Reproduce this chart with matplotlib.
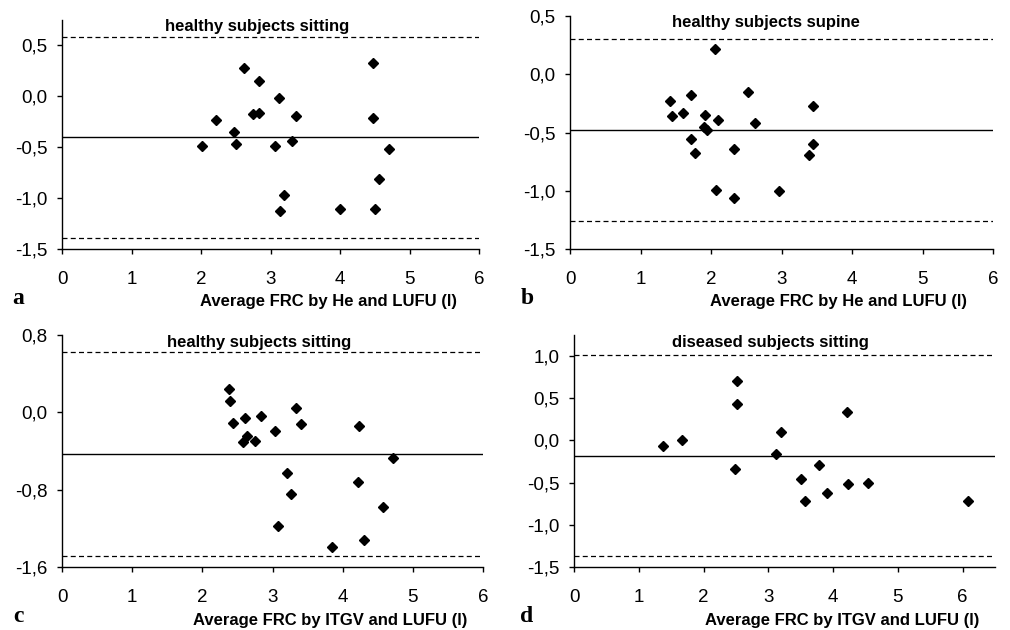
"""
Bland-Altman plots of FRC: four panels (a-d), mean difference with
limits of agreement (dashed).
"""

import matplotlib
matplotlib.use("Agg")
import matplotlib.pyplot as plt

plt.rcParams["font.family"] = ["Liberation Sans", "DejaVu Sans"]

# ---- data ---------------------------------------------------------------
# panel a: healthy subjects sitting, He vs LUFU
a_x = [2.02, 2.21, 2.47, 2.51, 2.62, 2.75, 2.83, 2.83, 3.07, 3.12,
       3.13, 3.19, 3.31, 3.37, 4.00, 4.47, 4.48, 4.51, 4.56, 4.70]
a_y = [-0.49, -0.23, -0.35, -0.47, 0.275, -0.17, -0.16, 0.155, -0.49, -0.02,
       -1.125, -0.965, -0.44, -0.195, -1.11, 0.33, -0.21, -1.105, -0.81, -0.52]
a_lines = [-0.40, 0.58, -1.39]  # mean, upper, lower

# panel b: healthy subjects supine, He vs LUFU
b_x = [1.42, 1.44, 1.60, 1.72, 1.72, 1.78, 1.91, 1.90, 1.94, 2.06,
       2.10, 2.07, 2.33, 2.33, 2.52, 2.63, 2.97, 3.39, 3.44, 3.45]
b_y = [-0.23, -0.36, -0.33, -0.175, -0.56, -0.675, -0.35, -0.455, -0.48, 0.215,
       -0.39, -0.99, -0.64, -1.06, -0.15, -0.42, -1.005, -0.69, -0.27, -0.60]
b_lines = [-0.48, 0.30, -1.26]

# panel c: healthy subjects sitting, ITGV vs LUFU
c_x = [2.385, 2.39, 2.43, 2.61, 2.64, 2.58, 2.755, 2.83, 3.04, 3.21,
       3.26, 3.08, 3.34, 3.41, 3.85, 4.23, 4.22, 4.30, 4.57, 4.72]
c_y = [0.24, 0.12, -0.11, -0.06, -0.24, -0.31, -0.295, -0.035, -0.19, -0.63,
       -0.84, -1.18, 0.045, -0.12, -1.39, -0.145, -0.72, -1.32, -0.98, -0.47]
c_lines = [-0.43, 0.62, -1.49]

# panel d: diseased subjects sitting, ITGV vs LUFU
d_x = [1.38, 1.67, 2.52, 2.51, 2.48, 3.12, 3.19, 3.50, 3.56, 3.79,
       3.91, 4.22, 4.23, 4.54, 6.09]
d_y = [-0.07, 0.01, 0.71, 0.435, -0.34, -0.155, 0.10, -0.46, -0.715, -0.29,
       -0.625, 0.335, -0.52, -0.505, -0.715]
d_lines = [-0.185, 1.015, -1.375]

titles = ["healthy subjects sitting", "healthy subjects supine",
          "healthy subjects sitting", "diseased subjects sitting"]
xlabels = ["Average FRC by He and LUFU (l)", "Average FRC by He and LUFU (l)",
           "Average FRC by ITGV and LUFU (l)", "Average FRC by ITGV and LUFU (l)"]
letters = ["a", "b", "c", "d"]

x_ticks = [0, 1, 2, 3, 4, 5, 6]
ab_yticks = [0.5, 0.0, -0.5, -1.0, -1.5]
ab_ylabels = ["0,5", "0,0", "-0,5", "-1,0", "-1,5"]
c_yticks = [0.8, 0.0, -0.8, -1.6]
c_ylabels = ["0,8", "0,0", "-0,8", "-1,6"]
d_yticks = [1.0, 0.5, 0.0, -0.5, -1.0, -1.5]
d_ylabels = ["1,0", "0,5", "0,0", "-0,5", "-1,0", "-1,5"]

# ---- layout (pixel boxes in a 1010x630 canvas) ----------------------------
W, H = 1010, 630
fig = plt.figure(figsize=(W / 100, H / 100), dpi=100)


def frac(x, y):
    return x / W, 1 - y / H


def add_panel(box, xs, ys, lines, xlim, ylim, yticks, ylabels,
              title, title_xy, xlabel, xlabel_xy, letter, letter_xy):
    l, t, r, b = box
    ax = fig.add_axes([l / W, 1 - b / H, (r - l) / W, (b - t) / H])
    ax.set_xlim(*xlim)
    ax.set_ylim(*ylim)

    mean, upper, lower = lines
    ax.axhline(mean, color="black", lw=1.0)
    ax.axhline(upper, color="black", lw=0.9, ls=(0, (4, 2.6)))
    ax.axhline(lower, color="black", lw=0.9, ls=(0, (4, 2.6)))
    ax.plot(xs, ys, ls="none", marker="D", ms=5, color="black")

    for s in ("top", "right"):
        ax.spines[s].set_visible(False)
    for s in ("left", "bottom"):
        ax.spines[s].set_linewidth(1.0)

    ax.set_xticks(x_ticks)
    ax.set_xticklabels([str(v) for v in x_ticks])
    ax.set_yticks(yticks)
    ax.set_yticklabels(ylabels)
    ax.tick_params(axis="x", direction="out", length=3.5, width=1.0,
                   pad=12, labelsize=13.5)
    ax.tick_params(axis="y", direction="out", length=3.5, width=1.0,
                   pad=7, labelsize=13.5)

    fig.text(*frac(*title_xy), title, ha="center", va="center",
             fontsize=12, fontweight="bold")
    fig.text(*frac(*xlabel_xy), xlabel, ha="center", va="center",
             fontsize=12, fontweight="bold")
    fig.text(*frac(*letter_xy), letter, ha="center", va="center",
             fontsize=17, fontweight="bold", family="Liberation Serif")
    return ax


add_panel((62, 20, 479, 249), a_x, a_y, a_lines, (0, 6), (-1.5, 0.75),
          ab_yticks, ab_ylabels, titles[0], (257, 26), xlabels[0], (328, 301),
          letters[0], (18, 299))
add_panel((570, 16, 993, 249), b_x, b_y, b_lines, (0, 6), (-1.5, 0.5),
          ab_yticks, ab_ylabels, titles[1], (766, 23), xlabels[1], (838, 301),
          letters[1], (527, 299))
add_panel((62, 335, 483, 567), c_x, c_y, c_lines, (0, 6), (-1.6, 0.8),
          c_yticks, c_ylabels, titles[2], (259, 342), xlabels[2], (330, 620),
          letters[2], (18, 617))
add_panel((574, 335, 995, 567), d_x, d_y, d_lines, (0, 6.5), (-1.5, 1.25),
          d_yticks, d_ylabels, titles[3], (770, 342), xlabels[3], (842, 620),
          letters[3], (527, 617))

fig.savefig("out.png", dpi=100)
